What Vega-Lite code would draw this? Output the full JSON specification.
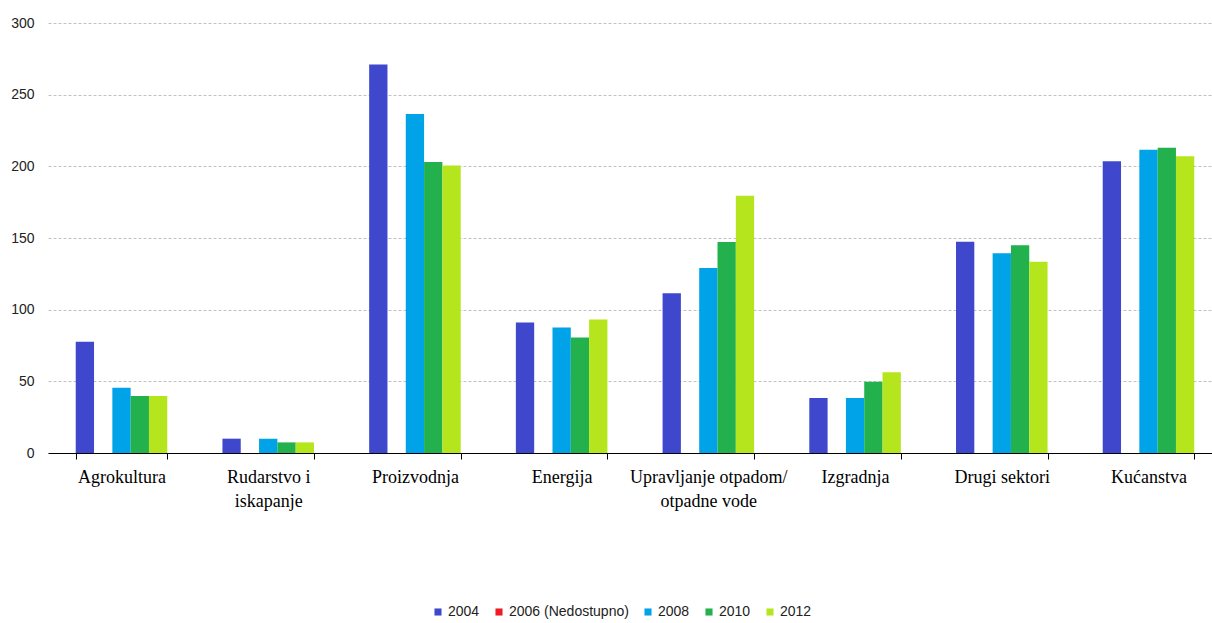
{
  "$schema": "https://vega.github.io/schema/vega-lite/v6.json",
  "autosize": {"type": "none"},
  "width": 1164,
  "height": 430,
  "padding": {"left": 48, "top": 23, "right": 0, "bottom": 170},
  "background": "white",
  "data": {
    "values": [
      {"sektor": "Agrokultura", "godina": "2004", "vrijednost": 77.7},
      {"sektor": "Agrokultura", "godina": "2008", "vrijednost": 45.6},
      {"sektor": "Agrokultura", "godina": "2010", "vrijednost": 39.8},
      {"sektor": "Agrokultura", "godina": "2012", "vrijednost": 39.8},
      {"sektor": "Rudarstvo i iskapanje", "godina": "2004", "vrijednost": 10},
      {"sektor": "Rudarstvo i iskapanje", "godina": "2008", "vrijednost": 10},
      {"sektor": "Rudarstvo i iskapanje", "godina": "2010", "vrijednost": 7.4},
      {"sektor": "Rudarstvo i iskapanje", "godina": "2012", "vrijednost": 7.4},
      {"sektor": "Proizvodnja", "godina": "2004", "vrijednost": 271},
      {"sektor": "Proizvodnja", "godina": "2008", "vrijednost": 236.5},
      {"sektor": "Proizvodnja", "godina": "2010", "vrijednost": 203},
      {"sektor": "Proizvodnja", "godina": "2012", "vrijednost": 200.5},
      {"sektor": "Energija", "godina": "2004", "vrijednost": 91},
      {"sektor": "Energija", "godina": "2008", "vrijednost": 87.5},
      {"sektor": "Energija", "godina": "2010", "vrijednost": 80.6},
      {"sektor": "Energija", "godina": "2012", "vrijednost": 93.1},
      {"sektor": "Upravljanje otpadom/otpadne vode", "godina": "2004", "vrijednost": 111.5},
      {"sektor": "Upravljanje otpadom/otpadne vode", "godina": "2008", "vrijednost": 129},
      {"sektor": "Upravljanje otpadom/otpadne vode", "godina": "2010", "vrijednost": 147.2},
      {"sektor": "Upravljanje otpadom/otpadne vode", "godina": "2012", "vrijednost": 179.5},
      {"sektor": "Izgradnja", "godina": "2004", "vrijednost": 38.3},
      {"sektor": "Izgradnja", "godina": "2008", "vrijednost": 38.3},
      {"sektor": "Izgradnja", "godina": "2010", "vrijednost": 49.7},
      {"sektor": "Izgradnja", "godina": "2012", "vrijednost": 56.4},
      {"sektor": "Drugi sektori", "godina": "2004", "vrijednost": 147.3},
      {"sektor": "Drugi sektori", "godina": "2008", "vrijednost": 139.4},
      {"sektor": "Drugi sektori", "godina": "2010", "vrijednost": 145},
      {"sektor": "Drugi sektori", "godina": "2012", "vrijednost": 133.5},
      {"sektor": "Kućanstva", "godina": "2004", "vrijednost": 203.5},
      {"sektor": "Kućanstva", "godina": "2008", "vrijednost": 211.6},
      {"sektor": "Kućanstva", "godina": "2010", "vrijednost": 213},
      {"sektor": "Kućanstva", "godina": "2012", "vrijednost": 207}
    ]
  },
  "mark": {"type": "bar"},
  "encoding": {
    "x": {
      "field": "sektor",
      "type": "nominal",
      "sort": null,
      "scale": {"range": [0, 1174], "paddingInner": 0.376, "paddingOuter": 0.189},
      "axis": {
        "title": null,
        "labelAngle": 0,
        "labelFont": "Liberation Serif",
        "labelFontSize": 18,
        "labelColor": "black",
        "labelPadding": 9,
        "labelLineHeight": 24,
        "labelBaseline": "top",
        "labelLimit": 0,
        "labelExpr": "datum.label == 'Rudarstvo i iskapanje' ? ['Rudarstvo i', 'iskapanje'] : datum.label == 'Upravljanje otpadom/otpadne vode' ? ['Upravljanje otpadom/', 'otpadne vode'] : datum.label",
        "tickBand": "extent",
        "domainColor": "black",
        "tickColor": "black",
        "tickSize": 6,
        "grid": false
      }
    },
    "xOffset": {
      "field": "godina",
      "type": "nominal",
      "scale": {"domain": ["2004", "2006", "2008", "2010", "2012"], "paddingInner": 0, "paddingOuter": 0}
    },
    "y": {
      "field": "vrijednost",
      "type": "quantitative",
      "scale": {"domain": [0, 300], "nice": false},
      "axis": {
        "title": null,
        "values": [0, 50, 100, 150, 200, 250, 300],
        "domain": false,
        "ticks": false,
        "labelFont": "Liberation Sans",
        "labelFontSize": 14,
        "labelColor": "#222222",
        "labelPadding": 14,
        "gridColor": "#c0c0c0",
        "gridDash": [3, 2],
        "gridWidth": 1
      }
    },
    "color": {
      "field": "godina",
      "type": "nominal",
      "scale": {
        "domain": ["2004", "2006", "2008", "2010", "2012"],
        "range": ["#3f48cc", "#ed1c24", "#00a2e8", "#22b14c", "#b5e61d"]
      },
      "legend": {
        "title": null,
        "orient": "none",
        "direction": "horizontal",
        "legendX": 383,
        "legendY": 582,
        "symbolType": "square",
        "symbolSize": 50,
        "symbolStrokeWidth": 0,
        "symbolOffset": 0,
        "labelOffset": 3,
        "labelFont": "Liberation Sans",
        "labelFontSize": 14,
        "labelColor": "#222222",
        "columnPadding": 12,
        "labelExpr": "datum.label == '2006' ? '2006 (Nedostupno)' : datum.label"
      }
    }
  },
  "config": {"view": {"stroke": null}}
}
